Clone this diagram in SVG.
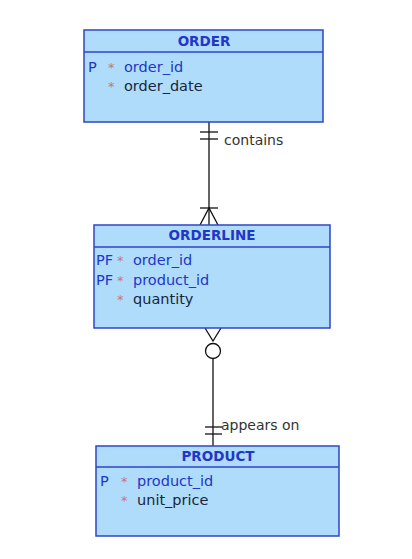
<svg xmlns="http://www.w3.org/2000/svg" width="412" height="559" viewBox="0 0 412 559">
<style>
.box{fill:#b0dcfc;stroke:#2f45c8;stroke-width:1.5}
.sep{stroke:#2f45c8;stroke-width:1.5}
.title{font-family:"DejaVu Sans",sans-serif;font-size:13.5px;font-weight:bold;fill:#2236c8;text-anchor:middle}
.key{font-family:"DejaVu Sans",sans-serif;font-size:14.5px;fill:#2236c8}
.att{font-family:"DejaVu Sans",sans-serif;font-size:14.5px;fill:#17263a}
.ast{font-family:"DejaVu Sans",sans-serif;font-size:13px;fill:#c27878}
.lbl{font-family:"DejaVu Sans",sans-serif;font-size:14px;fill:#333}
.ln{stroke:#111;stroke-width:1.3;fill:none}
</style>
<rect width="412" height="559" fill="#fff"/>
<g id="connectors">
<line class="ln" x1="209" y1="122" x2="209" y2="225"/>
<line class="ln" x1="200" y1="132" x2="218" y2="132"/>
<line class="ln" x1="200" y1="139" x2="218" y2="139"/>
<line class="ln" x1="200" y1="208" x2="218" y2="208"/>
<polyline class="ln" points="200,225 209,208 218,225"/>
<text class="lbl" x="224" y="145">contains</text>
<polyline class="ln" points="205,328 213,341 221,328"/>
<circle class="ln" cx="213" cy="351" r="7.5"/>
<line class="ln" x1="213" y1="359" x2="213" y2="446"/>
<line class="ln" x1="205" y1="427" x2="222" y2="427"/>
<line class="ln" x1="205" y1="434" x2="222" y2="434"/>
<text class="lbl" x="221" y="430">appears on</text>
</g>
<g id="order">
<rect class="box" x="84" y="30" width="239" height="92"/>
<line class="sep" x1="84" y1="52" x2="323" y2="52"/>
<text class="title" x="204" y="46">ORDER</text>
<text class="key" x="88" y="72">P</text>
<text class="ast" x="108" y="72">*</text>
<text class="key" x="124" y="72">order_id</text>
<text class="ast" x="108" y="91">*</text>
<text class="att" x="124" y="91">order_date</text>
</g>
<g id="orderline">
<rect class="box" x="94" y="225" width="236" height="103"/>
<line class="sep" x1="94" y1="247" x2="330" y2="247"/>
<text class="title" x="212" y="240">ORDERLINE</text>
<text class="key" x="96" y="265">PF</text>
<text class="ast" x="117" y="265">*</text>
<text class="key" x="133" y="265">order_id</text>
<text class="key" x="96" y="285">PF</text>
<text class="ast" x="117" y="285">*</text>
<text class="key" x="133" y="285">product_id</text>
<text class="ast" x="117" y="304">*</text>
<text class="att" x="133" y="304">quantity</text>
</g>
<g id="product">
<rect class="box" x="96" y="446" width="243" height="90"/>
<line class="sep" x1="96" y1="467" x2="339" y2="467"/>
<text class="title" x="218" y="461">PRODUCT</text>
<text class="key" x="100" y="486">P</text>
<text class="ast" x="121" y="486">*</text>
<text class="key" x="137" y="486">product_id</text>
<text class="ast" x="121" y="505">*</text>
<text class="att" x="137" y="505">unit_price</text>
</g>
</svg>
